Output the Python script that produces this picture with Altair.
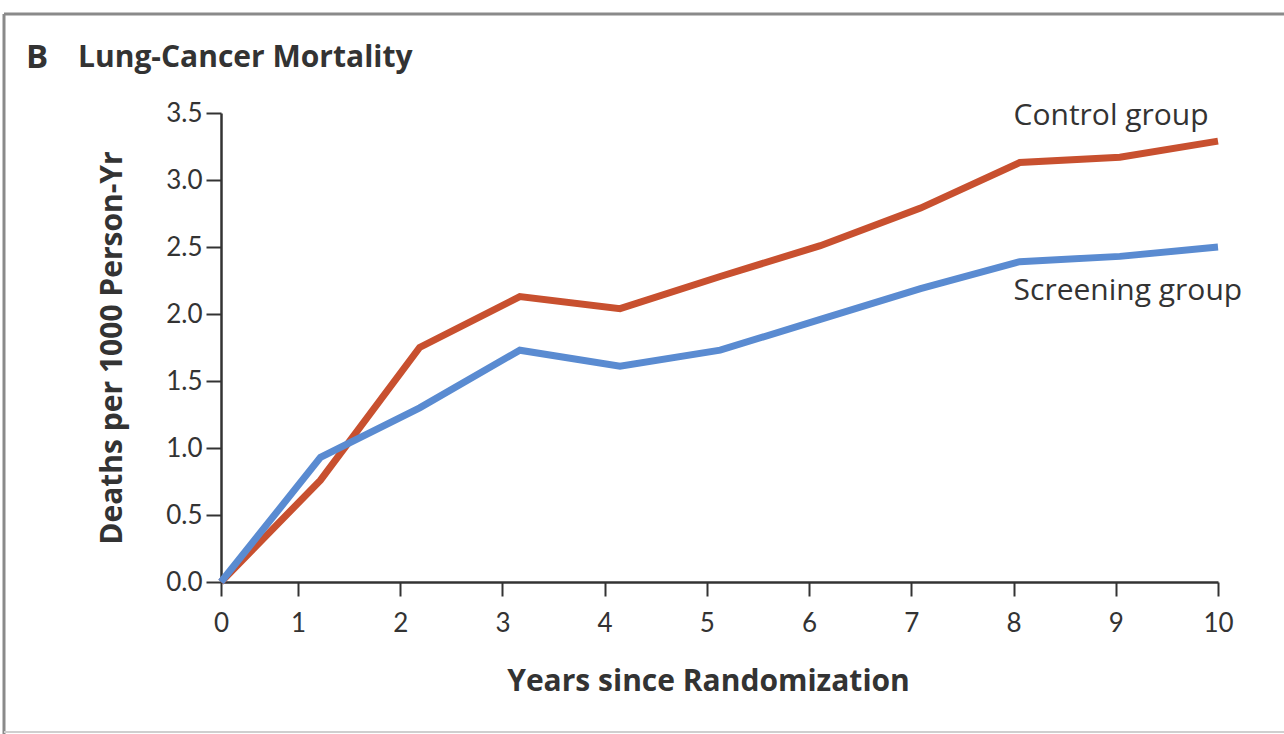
import altair as alt
import pandas as pd

# Years since randomization at which each rate was recorded
years = [0, 1.22, 2.19, 3.17, 4.15, 5.13, 6.11, 7.09, 8.06, 9.04, 10.0]
# Lung-cancer deaths per 1000 person-years
control = [0.0, 0.76, 1.75, 2.13, 2.04, 2.28, 2.51, 2.79, 3.13, 3.17, 3.29]
screening = [0.0, 0.93, 1.30, 1.73, 1.61, 1.73, 1.96, 2.19, 2.39, 2.43, 2.50]

group_names = ["Control group", "Screening group"]
group_colors = ["#C8502F", "#5A8BD1"]

# Where the group names sit (data units)
label_x = [8.0, 8.0]
label_y = [3.48, 2.17]

x_ticks = list(range(0, 11))
y_ticks = [0.0, 0.5, 1.0, 1.5, 2.0, 2.5, 3.0, 3.5]

rows = []
for name, series in zip(group_names, [control, screening]):
    for i, (yr, v) in enumerate(zip(years, series)):
        rows.append({"year": yr, "rate": v, "group": name, "order": i})
df = pd.DataFrame(rows)
labels = pd.DataFrame({"group": group_names, "x": label_x, "y": label_y})

W, H = 997, 469
TICK_FONT = "Lato"
FONT = "Open Sans"
INK = "#333333"

xscale = alt.Scale(domain=[0, 1, 10], range=[0, 77, W], nice=False, zero=False)
yscale = alt.Scale(domain=[0, 3.5], nice=False)
color = alt.Color("group:N", scale=alt.Scale(domain=group_names, range=group_colors), legend=None)

lines = alt.Chart(df).mark_line(strokeWidth=7, strokeJoin="miter", clip=False).encode(
    x=alt.X("year:Q", scale=xscale,
            axis=alt.Axis(values=x_ticks, title="Years since Randomization", format="d",
                          grid=False, tickSize=14, tickWidth=2, tickColor=INK,
                          domainColor=INK, domainWidth=2.5, labelFlush=False,
                          labelFont=TICK_FONT, labelFontSize=26, labelColor=INK, labelPadding=14,
                          titleFont=FONT, titleFontSize=30, titleFontWeight="bold",
                          titleColor=INK, titlePadding=30, titleX=487)),
    y=alt.Y("rate:Q", scale=yscale,
            axis=alt.Axis(values=y_ticks, title="Deaths per 1000 Person-Yr", format=".1f",
                          grid=False, tickSize=15, tickWidth=2, tickColor=INK,
                          domainColor=INK, domainWidth=2.5, labelFlush=False,
                          labelFont=TICK_FONT, labelFontSize=26, labelColor=INK, labelPadding=4,
                          titleFont=FONT, titleFontSize=30, titleFontWeight="bold",
                          titleColor=INK, titlePadding=38)),
    color=color,
    order="order:Q",
    detail="group:N",
)

names = alt.Chart(labels).mark_text(
    align="left", baseline="middle", font=FONT, fontSize=30, color=INK
).encode(
    x=alt.X("x:Q", scale=xscale),
    y=alt.Y("y:Q", scale=yscale),
    text="group:N",
)

panel = alt.Chart(pd.DataFrame({"t": ["B"]})).mark_text(
    align="left", baseline="middle", font=FONT, fontSize=33, fontWeight="bold", color=INK
).encode(x=alt.value(-195), y=alt.value(-55), text="t:N")

heading = alt.Chart(pd.DataFrame({"t": ["Lung-Cancer Mortality"]})).mark_text(
    align="left", baseline="middle", font=FONT, fontSize=30, fontWeight="bold", color=INK
).encode(x=alt.value(-143), y=alt.value(-55), text="t:N")

# Gray panel frame
frame_top = alt.Chart(pd.DataFrame({"k": [0]})).mark_rule(color="#8a8a8a", strokeWidth=3).encode(
    x=alt.value(-217), x2=alt.value(1070), y=alt.value(-99))
frame_left = alt.Chart(pd.DataFrame({"k": [0]})).mark_rule(color="#8a8a8a", strokeWidth=3).encode(
    x=alt.value(-217), y=alt.value(-99), y2=alt.value(630))
frame_bottom = alt.Chart(pd.DataFrame({"k": [0]})).mark_rule(color="#cfcfcf", strokeWidth=2).encode(
    x=alt.value(-217), x2=alt.value(1070), y=alt.value(619))

chart = alt.layer(lines, names, panel, heading, frame_top, frame_left, frame_bottom).properties(
    width=W, height=H,
    background="white",
    autosize=alt.AutoSizeParams(type="none"),
    padding={"left": 221, "top": 113, "right": 66, "bottom": 152},
).configure_view(stroke=None)

chart.save("out.html", embed_options={"renderer": "svg", "actions": False})
